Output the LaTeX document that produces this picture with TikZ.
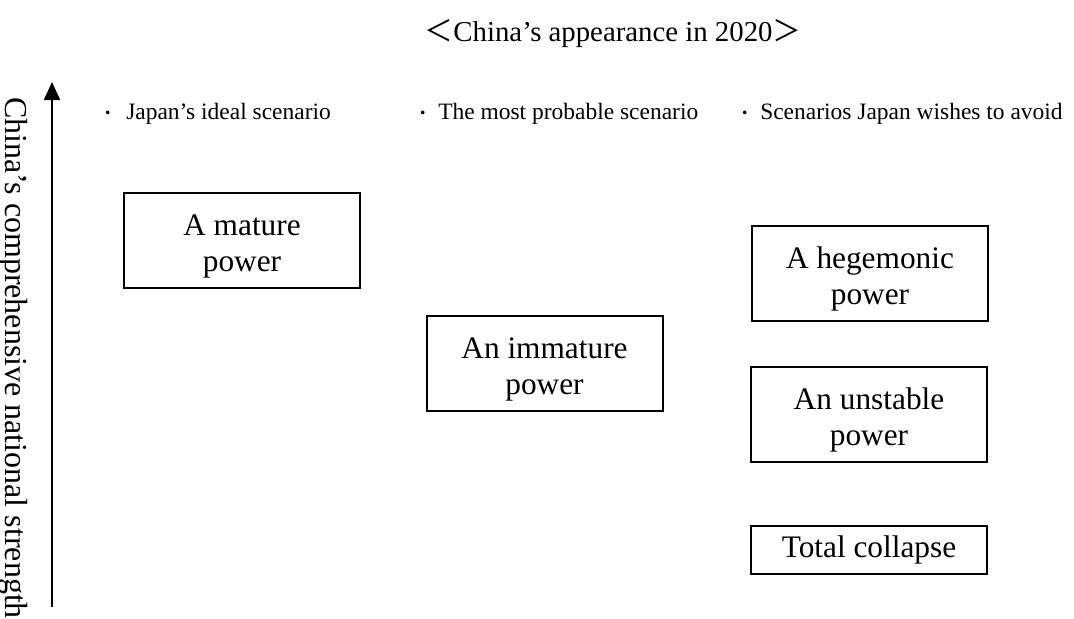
\documentclass[tikz,border=0pt]{standalone}
\usepackage{fontspec}
\setmainfont{Liberation Serif}
\newfontfamily\cjk{Noto Sans CJK JP}
\usetikzlibrary{arrows.meta}
\begin{document}
\begin{tikzpicture}[x=0.75pt,y=-0.75pt,
  box/.style={draw,line width=1.5pt,minimum width=177pt,minimum height=71.25pt,inner sep=0pt,align=center,text height=52pt,font=\fontsize{23.5}{27}\selectfont},
  lbl/.style={anchor=base west,inner sep=0pt,font=\fontsize{17.6}{20}\selectfont},
  dotlbl/.style={anchor=base west,inner sep=0pt,font=\cjk\fontsize{13}{14}\selectfont}]
\useasboundingbox (0,0) rectangle (1074,618);
% title
\node[anchor=base,inner sep=0pt,font=\fontsize{21.6}{24}\selectfont] (title) at (613,41) {{\cjk ＜}China’s appearance in 2020{\cjk ＞}};
% axis
\coordinate (axb) at (52,607);
\coordinate (axt) at (52,82);
\draw[line width=1.5pt,-{Triangle[width=12pt,length=13.5pt]}] (axb) -- (axt);
\node[rotate=-90,anchor=base west,inner sep=0pt,font=\fontsize{24}{27}\selectfont] (axlbl) at (6,97) {China’s comprehensive national strength};
% column labels
\node[dotlbl] (d1) at (99,119) {・};
\node[lbl] (l1) at (126,119) {Japan’s ideal scenario};
\node[dotlbl] (d2) at (414,119) {・};
\node[lbl] (l2) at (438,119) {The most probable scenario};
\node[dotlbl] (d3) at (736,119) {・};
\node[lbl] (l3) at (760,119) {Scenarios Japan wishes to avoid};
% boxes
\node[box] (mature) at (242,240.5) {A mature\\power};
\node[box] (hegemonic) at (870,273.5) {A hegemonic\\power};
\node[box] (immature) at (544.5,363.5) {An immature\\power};
\node[box] (unstable) at (869,414.5) {An unstable\\power};
\node[box,minimum height=36pt,text height=16.5pt] (collapse) at (869,550) {Total collapse};
\end{tikzpicture}
\end{document}
